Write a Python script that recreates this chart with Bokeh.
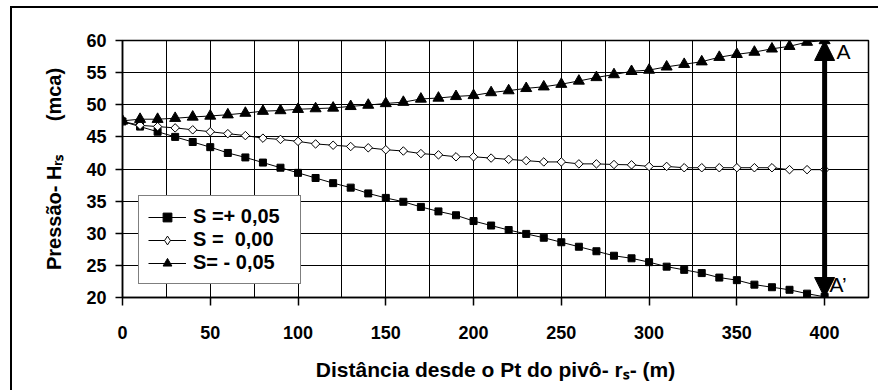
import numpy as np
from bokeh.plotting import figure
from bokeh.models import (Range1d, SingleIntervalTicker, Legend, LegendItem, Arrow,
                          NormalHead, Label)
from bokeh.embed import file_html
from bokeh.resources import INLINE

# ---------------- data ----------------
distance = list(range(0, 401, 10))
s_pos = [47.4, 46.6, 45.8, 45.0, 44.2, 43.4, 42.5, 41.8, 41.0, 40.2,
         39.4, 38.6, 37.8, 37.1, 36.2, 35.5, 34.9, 34.1, 33.4, 32.8,
         31.9, 31.2, 30.5, 29.9, 29.3, 28.6, 27.9, 27.2, 26.5, 26.1,
         25.5, 24.8, 24.3, 23.8, 23.1, 22.7, 22.0, 21.6, 21.2, 20.6, 20.1]
s_zero = [47.4, 46.8, 46.6, 46.4, 46.1, 45.8, 45.5, 45.2, 44.8, 44.6,
          44.3, 43.9, 43.7, 43.5, 43.3, 43.0, 42.8, 42.4, 42.2, 41.9,
          41.9, 41.7, 41.5, 41.3, 41.1, 41.1, 40.8, 40.8, 40.7, 40.65,
          40.4, 40.4, 40.2, 40.2, 40.2, 40.2, 40.2, 40.2, 39.9, 39.9, 39.9]
s_neg = [47.5, 47.75, 47.75, 47.9, 48.1, 48.25, 48.45, 48.7, 49.0, 49.1,
         49.3, 49.4, 49.5, 49.75, 49.95, 50.2, 50.4, 50.9, 51.05, 51.3,
         51.45, 51.9, 52.2, 52.55, 52.8, 53.2, 53.7, 54.25, 54.7, 55.2,
         55.4, 55.9, 56.3, 56.7, 57.4, 57.85, 58.2, 58.7, 59.1, 59.75, 60.0]
legend_labels = ["S =+ 0,05", "S =  0,00", "S= - 0,05"]
x_range = (0, 425)
y_range = (20, 60)
arrow_y = (20, 60)
x_title = "Distância desde o Pt do pivô- r\u209b- (m)"
y_title = "Pressão- H\u1d63\u209b" + "\u00a0" * 6 + "(mca)"
point_labels = ["A", "A\u2019"]

FONT = "Liberation Sans"

p = figure(width=868, height=384, output_backend="svg", toolbar_location=None,
           x_range=Range1d(*x_range), y_range=Range1d(*y_range),
           min_border_left=110, min_border_right=12, min_border_top=32,
           min_border_bottom=95, background_fill_color="white",
           border_fill_color="white")
p.margin = (6, 0, 0, 10)
p.styles = {"border-left": "2px solid black", "border-top": "2px solid black"}

p.outline_line_color = "black"
p.outline_line_width = 1.5

p.xaxis.ticker = SingleIntervalTicker(interval=50, num_minor_ticks=0)
p.yaxis.ticker = SingleIntervalTicker(interval=5, num_minor_ticks=0)
p.xgrid.ticker = SingleIntervalTicker(interval=25, num_minor_ticks=0)
p.ygrid.ticker = SingleIntervalTicker(interval=5, num_minor_ticks=0)
p.grid.grid_line_color = "black"
p.grid.grid_line_alpha = 1
p.grid.grid_line_width = 1

for ax in (p.xaxis[0], p.yaxis[0]):
    ax.axis_line_color = "black"
    ax.axis_line_width = 1.5
    ax.major_tick_line_color = "black"
    ax.major_tick_line_width = 1.5
    ax.major_tick_in = 0
    ax.minor_tick_in = 0
    ax.minor_tick_out = 0
    ax.major_label_text_font = FONT
    ax.major_label_text_font_style = "bold"
    ax.major_label_text_font_size = "18px"
    ax.major_label_text_color = "black"
    ax.axis_label_text_font = FONT
    ax.axis_label_text_font_style = "bold"
    ax.axis_label_text_color = "black"
p.xaxis.major_tick_out = 8
p.xaxis.major_label_standoff = 20
p.yaxis.major_tick_out = 7
p.yaxis.major_label_standoff = 9
p.xaxis.axis_label = x_title
p.xaxis.axis_label_text_font_size = "21px"
p.xaxis.axis_label_standoff = 16
p.yaxis.axis_label = y_title
p.yaxis.axis_label_text_font_size = "20px"
p.yaxis.axis_label_standoff = 18

# series
r1l = p.line(distance, s_pos, line_color="black", line_width=1)
r1m = p.scatter(distance, s_pos, marker="square", size=7, fill_color="black", line_color="black")
r2l = p.line(distance, s_zero, line_color="black", line_width=1)
# upright diamond used for the legend glyph (hidden under the rotated squares in the plot)
r2leg = p.scatter(distance, s_zero, marker="diamond", size=7, fill_color="white",
                  line_color="black", line_width=1)
r2m = p.scatter(distance, s_zero, marker="square", angle=np.pi / 4, size=6,
                fill_color="white", line_color="black", line_width=1)
r3l = p.line(distance, s_neg, line_color="black", line_width=1)
r3m = p.scatter(distance, s_neg, marker="triangle", size=11, fill_color="black", line_color="black")

# arrow A - A'
p.add_layout(Arrow(x_start=distance[-1], y_start=arrow_y[0], x_end=distance[-1], y_end=arrow_y[1],
                   line_width=5, line_color="black",
                   start=NormalHead(size=20, fill_color="black", line_color="black", line_width=1),
                   end=NormalHead(size=20, fill_color="black", line_color="black", line_width=1)))
p.add_layout(Label(x=distance[-1], y=arrow_y[1], text=point_labels[0], x_offset=12, y_offset=-11,
                   text_font=FONT, text_font_size="21px", text_color="black",
                   text_align="left", text_baseline="alphabetic"))
p.add_layout(Label(x=distance[-1], y=arrow_y[0], text=point_labels[1], x_offset=5, y_offset=13,
                   text_font=FONT, text_font_size="21px", text_color="black",
                   text_align="left", text_baseline="alphabetic"))

# legend
legend = Legend(items=[LegendItem(label=legend_labels[0], renderers=[r1l, r1m]),
                       LegendItem(label=legend_labels[1], renderers=[r2l, r2leg]),
                       LegendItem(label=legend_labels[2], renderers=[r3l, r3m])],
                location=(16, 13), margin=0, padding=9, spacing=-2,
                label_height=22, glyph_height=22, glyph_width=38, label_standoff=7,
                label_width=98, label_text_font=FONT, label_text_font_style="bold",
                label_text_font_size="20px", label_text_color="black",
                border_line_color="black", border_line_width=1,
                background_fill_color="white", background_fill_alpha=1)
p.add_layout(legend)

open("out.html", "w").write(file_html(p, INLINE))
